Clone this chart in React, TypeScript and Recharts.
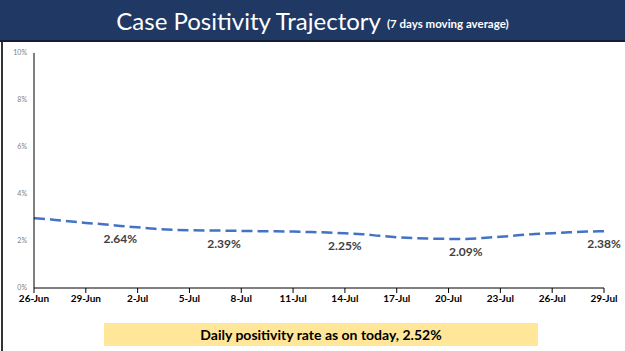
import { LineChart, Line, XAxis, YAxis, LabelList } from 'recharts';

const dates = [
    '26-Jun', '27-Jun', '28-Jun', '29-Jun', '30-Jun', '1-Jul', '2-Jul', '3-Jul', '4-Jul', '5-Jul',
    '6-Jul', '7-Jul', '8-Jul', '9-Jul', '10-Jul', '11-Jul', '12-Jul', '13-Jul', '14-Jul', '15-Jul',
    '16-Jul', '17-Jul', '18-Jul', '19-Jul', '20-Jul', '21-Jul', '22-Jul', '23-Jul', '24-Jul', '25-Jul',
    '26-Jul', '27-Jul', '28-Jul', '29-Jul',
];

// 7 day moving average of positivity (%)
const positivity = [
    2.97, 2.92, 2.84, 2.77, 2.71, 2.64, 2.58, 2.52, 2.48, 2.46,
    2.45, 2.44, 2.43, 2.42, 2.41, 2.40, 2.38, 2.36, 2.33, 2.29,
    2.22, 2.16, 2.12, 2.10, 2.09, 2.09, 2.13, 2.18, 2.24, 2.30,
    2.33, 2.37, 2.40, 2.42,
];

// callouts shown under the line
const labelDates = ['1-Jul', '7-Jul', '14-Jul', '21-Jul', '29-Jul'];
const labelTexts = ['2.64%', '2.39%', '2.25%', '2.09%', '2.38%'];

const yTicks = [0, 2, 4, 6, 8, 10];

const data = dates.map((d, i) => {
    const li = labelDates.indexOf(d);
    return { date: d, value: positivity[i], label: li >= 0 ? labelTexts[li] : '' };
});

const font = 'Lato, "Open Sans", sans-serif';

const PointLabel = (props: any) => {
    const { x, y, value } = props;
    if (!value) return null;
    return (
        <text x={x} y={y + 17} textAnchor="middle" fontSize={12} fontWeight="bold" fill="#404040" fontFamily={font}>
            {value}
        </text>
    );
};

export default function App() {
    return (
        <div style={{ position: 'absolute', top: 0, left: 0, width: 625, height: 351, background: '#fff', fontFamily: font, overflow: 'hidden' }}>
            <LineChart
                width={625}
                height={320}
                data={data}
                margin={{ top: 53, right: 21, bottom: 0, left: 0 }}
            >
                <XAxis
                    dataKey="date"
                    interval={2}
                    height={32}
                    tickSize={5}
                    tickMargin={2}
                    stroke="#000"
                    tick={{ fill: '#000', fontSize: 10, fontWeight: 'bold', fontFamily: font }}
                />
                <YAxis
                    domain={[0, 10]}
                    ticks={yTicks}
                    width={34}
                    tickLine={false}
                    tickSize={4}
                    tickMargin={3}
                    stroke="#000"
                    tickFormatter={(v) => `${v}%`}
                    tick={{ fill: '#808080', fontSize: 7, fontFamily: font }}
                />
                <Line
                    type="monotone"
                    dataKey="value"
                    stroke="#4472c4"
                    strokeWidth={2.5}
                    strokeDasharray="11 5"
                    dot={false}
                    isAnimationActive={false}
                >
                    <LabelList dataKey="label" content={PointLabel} />
                </Line>
            </LineChart>

            {/* Title bar */}
            <div
                style={{
                    position: 'absolute', top: 0, left: 0, width: 625, height: 40,
                    background: '#1f3864', borderBottom: '2px solid #121d36',
                    display: 'flex', alignItems: 'center', justifyContent: 'center', color: '#fff',
                }}
            >
                <span style={{ fontSize: 24, marginRight: 6 }}>Case Positivity Trajectory</span>
                <span style={{ fontSize: 11.5, fontWeight: 'bold', marginTop: 6 }}>(7 days moving average)</span>
            </div>

            {/* left frame edge */}
            <div style={{ position: 'absolute', top: 42, left: 1, width: 2, height: 309, background: '#333' }} />

            {/* Bottom note */}
            <div
                style={{
                    position: 'absolute', top: 323, left: 104, width: 434, height: 23,
                    background: '#ffe699', display: 'flex', alignItems: 'center', justifyContent: 'center',
                    fontSize: 14, fontWeight: 'bold', color: '#000',
                }}
            >
                Daily positivity rate as on today, 2.52%
            </div>
        </div>
    );
}
